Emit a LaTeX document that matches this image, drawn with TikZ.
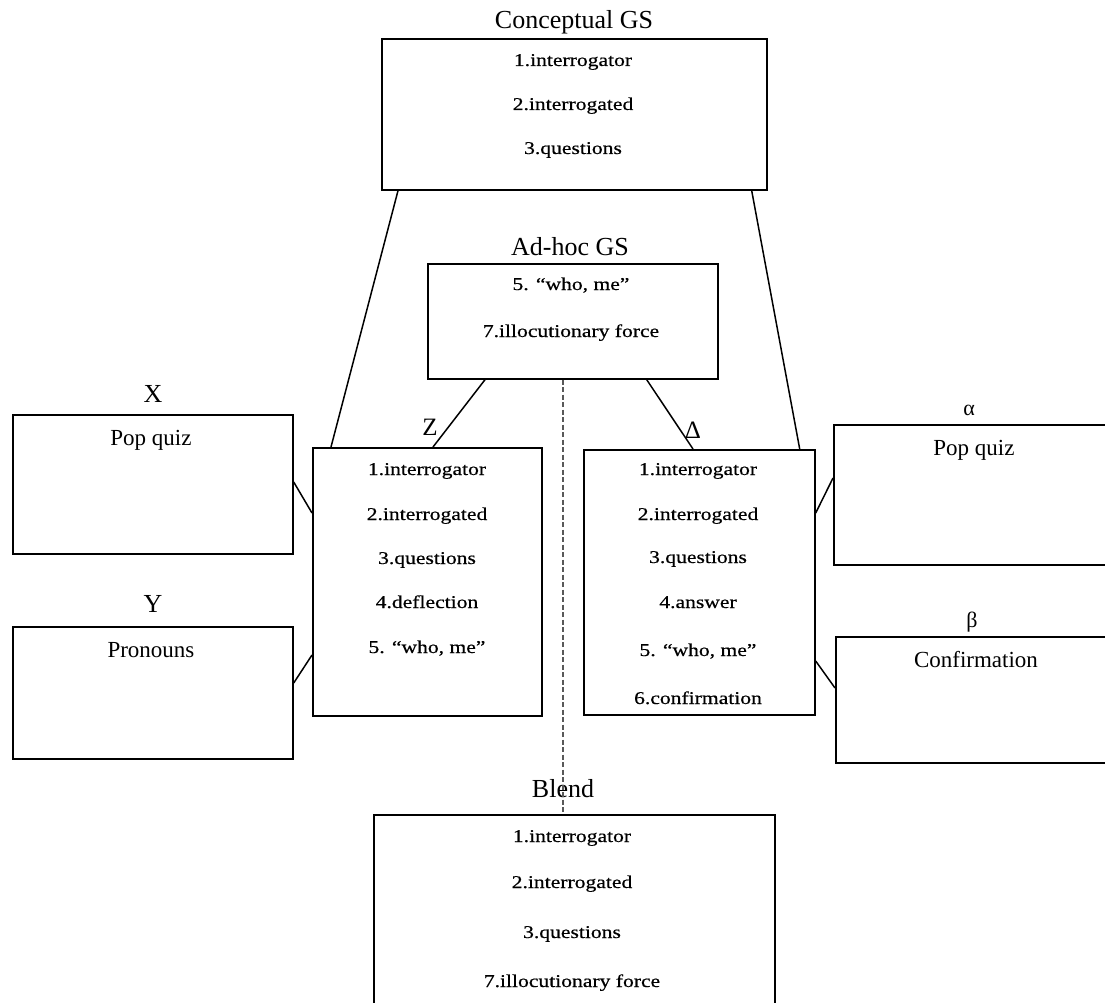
\documentclass[tikz,border=0pt]{standalone}
\usepackage{fontspec}
\setmainfont{Liberation Serif}
\newfontfamily\itemfont[FakeStretch=1.2,FakeBold=0.5]{Liberation Serif}
\usetikzlibrary{calc}

\begin{document}
\begin{tikzpicture}[x=1pt,y=-1pt,
  frame/.style={draw, line width=1.7pt, inner sep=0pt, anchor=north west},
  item/.style={anchor=base, inner sep=0pt, font=\itemfont\fontsize{18}{20}\selectfont},
  title/.style={anchor=base, inner sep=0pt, font=\fontsize{26}{28}\selectfont},
  sub/.style={anchor=base, inner sep=0pt, font=\fontsize{23}{25}\selectfont},
  greek/.style={anchor=base, inner sep=0pt, font=\fontsize{22}{24}\selectfont},
  link/.style={line width=1.5pt},
  mapping/.style={line width=1.4pt, gray!70!black, dash pattern=on 5pt off 2.5pt}]

\useasboundingbox (0,0) rectangle (1105,1003);
\fill[white] (0,0) rectangle (1105,1003);
\clip (0,0) rectangle (1105,1003);

% ---- spaces ----
\node[frame, minimum width=385pt, minimum height=151pt] (cg) at (381,38) {};
\node[frame, minimum width=290pt, minimum height=115pt] (ah) at (427,263) {};
\node[frame, minimum width=229pt, minimum height=268pt] (zb) at (312,447) {};
\node[frame, minimum width=231pt, minimum height=265pt] (db) at (583,449) {};
\node[frame, minimum width=401pt, minimum height=220pt] (bl) at (373,814) {};
\node[frame, minimum width=280pt, minimum height=139pt] (xb) at (12,414) {};
\node[frame, minimum width=280pt, minimum height=132pt] (yb) at (12,626) {};
\node[frame, minimum width=300pt, minimum height=140pt] (ab) at (833,424) {};
\node[frame, minimum width=300pt, minimum height=126pt] (bb) at (835,636) {};

% ---- titles ----
\node[title] (cgt) at (574,29) {Conceptual GS};
\node[title] (aht) at (570,255) {Ad-hoc GS};
\node[title] (blt) at (563,797) {Blend};
\node[title] (xt) at (153,402) {X};
\node[title] (yt) at (153,612) {Y};
\node[title, font=\fontsize{25}{27}\selectfont] (zt) at (430,435) {Z};
\node[title, font=\fontsize{25}{27}\selectfont] (dt) at (693,438) {Δ};
\node[greek] (at) at (969,415) {α};
\node[greek] (bt) at (972,627) {β};

% ---- conceptual generic space ----
\node[item] (cg1) at (573,66) {1.interrogator};
\node[item] (cg2) at (573,110) {2.interrogated};
\node[item] (cg3) at (573,154) {3.questions};

% ---- ad-hoc generic space ----
\node[item] (ah5) at (571,290) {5. “who, me”};
\node[item] (ah7) at (571,337) {7.illocutionary force};

% ---- input Z ----
\node[item] (z1) at (427,475) {1.interrogator};
\node[item] (z2) at (427,520) {2.interrogated};
\node[item] (z3) at (427,564) {3.questions};
\node[item] (z4) at (427,608) {4.deflection};
\node[item] (z5) at (427,653) {5. “who, me”};

% ---- input Delta ----
\node[item] (d1) at (698,475) {1.interrogator};
\node[item] (d2) at (698,520) {2.interrogated};
\node[item] (d3) at (698,563) {3.questions};
\node[item] (d4) at (698,608) {4.answer};
\node[item] (d5) at (698,656) {5. “who, me”};
\node[item] (d6) at (698,704) {6.confirmation};

% ---- blend ----
\node[item] (b1) at (572,842) {1.interrogator};
\node[item] (b2) at (572,888) {2.interrogated};
\node[item] (b3) at (572,938) {3.questions};
\node[item] (b7) at (572,987) {7.illocutionary force};

% ---- side inputs ----
\node[sub] (xq) at (151,445) {Pop quiz};
\node[sub] (yp) at (151,657) {Pronouns};
\node[sub] (aq) at (974,455) {Pop quiz};
\node[sub] (bc) at (976,667) {Confirmation};

% ---- connectors ----
\draw[link] ($(cg.south west)+(17,0)$) -- ($(zb.north west)+(19,0)$);
\draw[link] ($(cg.south east)+(-16,0)$) -- ($(db.north east)+(-16,0)$);
\draw[link] ($(ah.south west)+(58,0)$) -- ($(zb.north west)+(121,0)$);
\draw[link] ($(ah.south east)+(-72,0)$) -- ($(db.north west)+(110,0)$);
\draw[link] ($(xb.north east)+(0,68)$) -- ($(zb.north west)+(0,66)$);
\draw[link] ($(yb.north east)+(0,57)$) -- ($(zb.north west)+(0,208)$);
\draw[link] ($(db.north east)+(0,64)$) -- ($(ab.north west)+(0,54)$);
\draw[link] ($(db.north east)+(0,212)$) -- ($(bb.north west)+(0,52)$);
\coordinate (dtop) at ($(ah.south west)+(136,0)$);
\draw[mapping] (dtop) -- (dtop |- bl.north);

\end{tikzpicture}
\end{document}
